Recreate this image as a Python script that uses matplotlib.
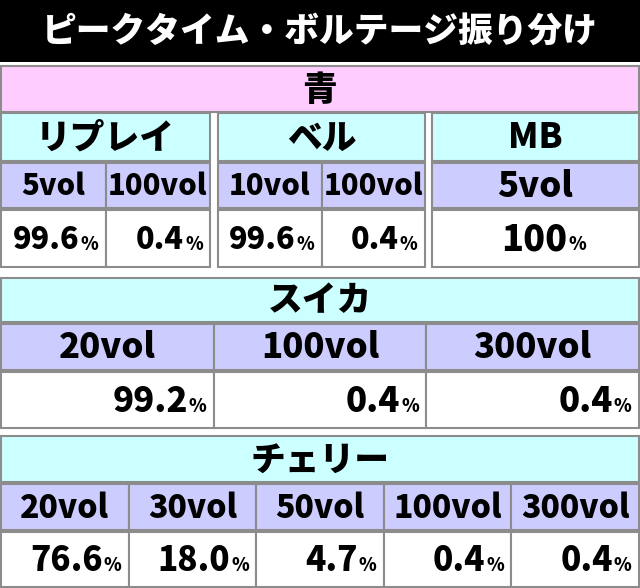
import matplotlib.pyplot as plt
from matplotlib.patches import Rectangle

plt.rcParams['font.family'] = 'Noto Sans CJK JP'

title = "ピークタイム・ボルテージ振り分け"
top_label = "青"
groups = ["リプレイ", "ベル", "MB", "スイカ", "チェリー"]
replay_vols = ["5vol", "100vol"]
replay_vals = ["99.6", "0.4"]
bell_vols = ["10vol", "100vol"]
bell_vals = ["99.6", "0.4"]
mb_vols = ["5vol"]
mb_vals = ["100"]
suika_vols = ["20vol", "100vol", "300vol"]
suika_vals = ["99.2", "0.4", "0.4"]
cherry_vols = ["20vol", "30vol", "50vol", "100vol", "300vol"]
cherry_vals = ["76.6", "18.0", "4.7", "0.4", "0.4"]

CYAN = "#ccffff"
LAV = "#ccccff"
PINK = "#ffccff"
EDGE = "#8c8c8c"

fig = plt.figure(figsize=(6.4, 5.88), dpi=100)
ax = fig.add_axes([0, 0, 1, 1])
ax.set_xlim(0, 640)
ax.set_ylim(588, 0)
ax.axis('off')


def cell(x0, x1, y0, y1, color, text=None, size=25):
    ax.add_patch(Rectangle((x0, y0), x1 - x0, y1 - y0, facecolor=color,
                           edgecolor=EDGE, lw=1.5))
    if text is not None:
        ax.text((x0 + x1) / 2, (y0 + y1) / 2 + 1, text, ha='center', va='center',
                fontsize=size, fontweight='heavy', color='black')


def value(x0, x1, y0, y1, val, centered=False, size=25):
    ax.add_patch(Rectangle((x0, y0), x1 - x0, y1 - y0, facecolor='white',
                           edgecolor=EDGE, lw=1.5))
    yc = (y0 + y1) / 2 + 1
    xr = (x0 + x1) / 2 + 32 if centered else x1 - 26
    ax.text(xr, yc, val, ha='right', va='center', fontsize=size,
            fontweight='heavy', color='black')
    ax.text(xr + 1, yc + 5, "%", ha='left', va='center', fontsize=13,
            fontweight='heavy', color='black')


# title bar
ax.add_patch(Rectangle((0, 0), 640, 62, facecolor='black', edgecolor='none'))
ax.text(320, 31, title, ha='center', va='center', fontsize=25,
        fontweight='heavy', color='white')

cell(1, 639, 66, 112, PINK, top_label)

# upper block: replay, bell, MB
blocks = [(1, 210, replay_vols, replay_vals), (218, 425, bell_vols, bell_vals),
          (432, 639, mb_vols, mb_vals)]
for (bx0, bx1, vols, vals), name in zip(blocks, groups[:3]):
    cell(bx0, bx1, 113, 161, CYAN, name)
    w = (bx1 - bx0) / len(vols)
    sz = 25 if len(vols) == 1 else 21
    for i, (v, p) in enumerate(zip(vols, vals)):
        cx0 = bx0 + i * w
        cell(cx0, cx0 + w, 163, 208, LAV, v, size=sz)
        value(cx0, cx0 + w, 210, 267, p, centered=(len(vols) == 1), size=sz + 1)

# suika
cell(1, 639, 278, 322, CYAN, groups[3])
w = 638 / len(suika_vols)
for i, (v, p) in enumerate(zip(suika_vols, suika_vals)):
    cx0 = 1 + i * w
    cell(cx0, cx0 + w, 324, 370, LAV, v)
    value(cx0, cx0 + w, 372, 428, p)

# cherry
cell(1, 639, 436, 482, CYAN, groups[4])
w = 638 / len(cherry_vols)
for i, (v, p) in enumerate(zip(cherry_vols, cherry_vals)):
    cx0 = 1 + i * w
    cell(cx0, cx0 + w, 484, 530, LAV, v, size=23)
    value(cx0, cx0 + w, 532, 587, p, size=24)

fig.savefig('out.png', dpi=100)
